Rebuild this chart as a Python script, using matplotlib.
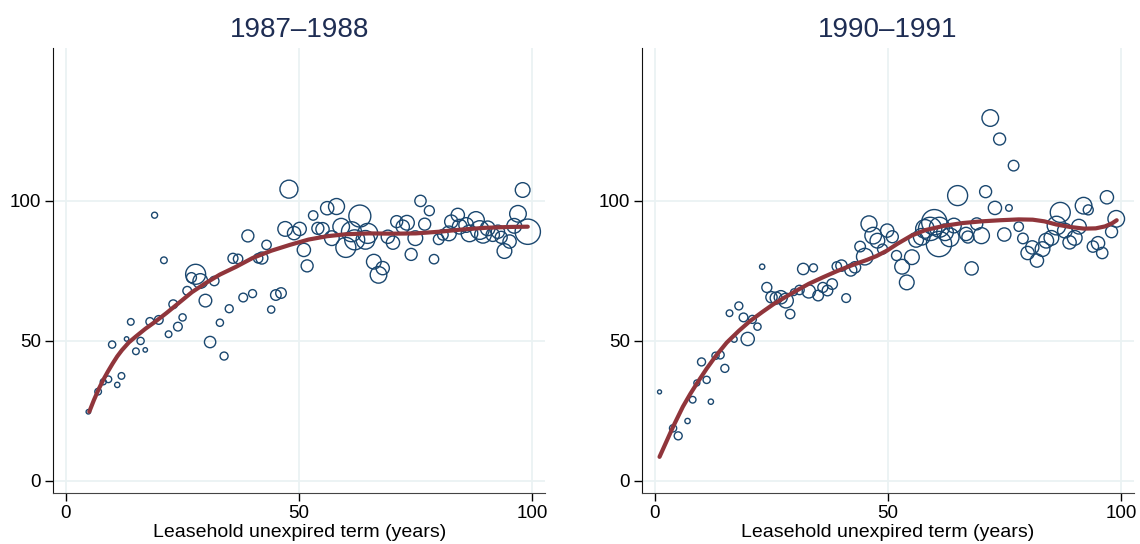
import matplotlib
matplotlib.use("Agg")
import matplotlib.pyplot as plt
import numpy as np

plt.rcParams['font.family'] = ['Liberation Sans', 'DejaVu Sans']

# 1987-1988: leasehold term (years), relative value, weight (area of marker)
x87 = [4.8, 6.9, 8.0, 9.1, 11.0, 11.9, 9.9, 13.0, 15.0, 16.0, 17.0, 13.9, 18.0, 19.9,
       19.0, 21.0, 22.0, 24.0, 25.0, 23.0, 26.0, 27.8, 26.9, 28.8, 29.9, 31.8, 30.9,
       33.9, 33.0, 35.0, 35.8, 36.9, 38.0, 39.0, 40.0, 41.2, 42.0, 43.0, 44.0, 45.0,
       46.1, 47.8, 47.0, 48.9, 50.1, 51.0, 51.7, 53.0, 54.0, 55.0, 56.0, 58.0, 57.0,
       59.0, 60.0, 63.0, 61.2, 61.9, 64.2, 64.7, 66.0, 67.9, 67.0, 69.0, 70.1, 70.9,
       72.2, 73.1, 74.0, 74.9, 76.0, 77.9, 76.9, 78.9, 79.9, 80.8, 82.1, 82.6, 84.0,
       84.4, 85.8, 86.5, 87.9, 88.7, 89.4, 90.4, 91.5, 92.6, 93.3, 94.0, 95.1, 96.1,
       96.9, 97.9, 99.0]
y87 = [24.6, 31.8, 35.3, 36.2, 34.2, 37.4, 48.6, 50.6, 46.2, 49.9, 46.7, 56.7, 56.8, 57.4,
       94.8, 78.7, 52.3, 55.0, 58.3, 63.0, 67.8, 73.7, 72.5, 71.3, 64.3, 71.3, 49.5,
       44.5, 56.4, 61.4, 79.4, 79.2, 65.4, 87.4, 66.8, 79.4, 79.5, 84.2, 61.1, 66.3,
       67.0, 104.1, 89.9, 88.4, 89.9, 82.4, 76.7, 94.7, 90.1, 89.8, 97.3, 97.9, 86.6,
       90.7, 83.3, 94.5, 88.9, 86.0, 86.0, 88.3, 78.2, 75.9, 73.5, 87.1, 85.0, 92.5,
       90.7, 92.1, 80.8, 86.6, 99.9, 96.4, 91.6, 79.1, 86.2, 87.8, 88.3, 92.5, 94.9,
       90.7, 91.3, 88.3, 93.1, 89.5, 87.8, 90.1, 87.8, 88.9, 86.9, 82.0, 85.4, 91.0,
       95.3, 103.8, 88.9]
n87 = [5, 11, 9, 11, 7, 11, 13, 5, 11, 13, 5, 11, 16, 19,
       9, 11, 11, 19, 13, 19, 19, 100, 25, 54, 40, 22, 32,
       16, 13, 16, 25, 22, 19, 36, 16, 22, 36, 22, 13, 28,
       28, 81, 54, 44, 44, 44, 36, 22, 36, 44, 44, 64, 54,
       69, 100, 121, 100, 100, 87, 100, 54, 44, 69, 44, 44, 36,
       44, 54, 36, 54, 32, 25, 36, 22, 28, 28, 54, 44, 44,
       54, 54, 69, 69, 87, 69, 54, 44, 44, 36, 54, 44, 54,
       69, 54, 160]

# 1990-1991
x90 = [1.0, 3.9, 5.0, 7.0, 8.1, 9.0, 11.1, 12.0, 10.0, 13.0, 14.0, 15.0, 17.0, 16.0,
       18.0, 19.0, 19.9, 20.9, 22.0, 23.0, 24.0, 25.0, 26.0, 27.0, 28.1, 29.0, 29.8,
       31.0, 31.8, 34.0, 33.0, 35.0, 36.0, 37.0, 38.0, 39.0, 40.0, 41.0, 42.0, 42.9,
       44.0, 45.0, 45.9, 46.8, 47.7, 48.8, 49.8, 50.9, 51.8, 53.0, 54.0, 55.1, 56.0,
       57.2, 57.9, 59.0, 59.9, 60.9, 61.0, 62.2, 63.2, 64.1, 64.9, 66.7, 67.1, 67.9,
       69.0, 70.0, 70.9, 71.9, 73.9, 72.9, 74.9, 75.9, 76.9, 78.0, 78.9, 79.9, 80.9,
       81.9, 83.1, 83.9, 85.0, 86.1, 86.9, 87.9, 88.9, 90.0, 90.9, 91.9, 92.9, 93.9,
       95.0, 95.9, 96.9, 97.9, 98.9]
y90 = [31.7, 18.7, 16.0, 21.3, 28.9, 34.9, 36.0, 28.2, 42.4, 44.6, 44.9, 40.1, 50.5, 59.8,
       62.4, 58.3, 50.6, 57.6, 55.0, 76.4, 69.0, 65.5, 65.2, 65.5, 64.3, 59.5, 67.3,
       68.1, 75.6, 76.0, 67.6, 66.1, 69.0, 67.9, 70.2, 76.5, 76.8, 65.2, 75.2, 76.2,
       83.6, 80.0, 91.7, 87.5, 85.7, 82.7, 89.3, 87.1, 80.4, 76.4, 70.8, 79.8, 86.0,
       87.1, 89.9, 89.9, 92.3, 84.5, 90.5, 88.7, 86.9, 91.1, 101.8, 88.1, 87.0, 75.8,
       91.7, 87.5, 103.2, 129.5, 122.0, 97.4, 87.9, 97.4, 112.5, 90.7, 86.5, 81.3, 83.3,
       78.6, 82.7, 85.7, 86.7, 91.1, 95.8, 89.3, 85.1, 86.7, 90.7, 98.2, 96.7, 83.6,
       84.8, 81.3, 101.2, 88.9, 93.5]
n90 = [4, 13, 16, 7, 11, 9, 13, 7, 16, 13, 16, 16, 9, 11,
       16, 19, 44, 16, 13, 7, 25, 32, 36, 44, 54, 22, 11,
       22, 32, 16, 44, 28, 25, 28, 28, 22, 32, 19, 36, 32,
       28, 69, 64, 69, 54, 25, 44, 36, 25, 54, 54, 54, 54,
       69, 87, 136, 160, 160, 100, 69, 87, 54, 100, 44, 36, 44,
       36, 64, 36, 69, 36, 44, 44, 11, 28, 22, 28, 44, 44,
       44, 54, 54, 54, 87, 100, 54, 44, 54, 54, 69, 25, 32,
       44, 32, 44, 36, 69]

# smoothed fit
fx87 = [5, 6, 7, 8, 9, 10, 11, 12, 13.5, 15, 17, 19, 21.5, 24, 27, 30, 33, 36.5, 40,
        44, 48, 52, 56, 60, 65, 70, 75, 80, 85, 90, 95, 99]
fy87 = [24.6, 28.8, 32.6, 36.0, 39.0, 41.8, 44.4, 46.6, 49.4, 51.5, 54.2, 56.6, 59.8,
        63.2, 67.3, 70.6, 73.6, 76.4, 79.5, 82.1, 84.2, 86.1, 87.3, 88.0, 88.3, 88.2,
        88.3, 88.9, 89.7, 90.3, 90.6, 90.7]
fx90 = [1, 2, 3, 4, 5, 6, 7.6, 9, 11.1, 13, 15.4, 18, 20.4, 23, 25.4, 28, 30.4, 33, 36,
        39, 41.1, 43, 45.4, 47.5, 49.7, 52, 55, 58, 62, 66, 70, 74, 78, 81, 83.5, 86,
        89, 92, 94.5, 96.5, 98, 99]
fy90 = [8.5, 12.2, 15.9, 19.6, 23.0, 26.4, 31.0, 34.7, 40.0, 44.4, 49.3, 53.5, 57.0,
        60.2, 63.0, 65.6, 67.9, 70.3, 72.6, 74.8, 76.2, 77.4, 78.8, 80.2, 82.1, 84.6,
        87.5, 89.5, 91.0, 92.0, 92.6, 93.0, 93.3, 93.2, 92.6, 91.5, 90.6, 90.0, 90.1,
        90.8, 91.9, 93.0]

panels = [("1987\u20131988", x87, y87, n87, fx87, fy87),
          ("1990\u20131991", x90, y90, n90, fx90, fy90)]

fig = plt.figure(figsize=(11.4, 5.44), dpi=100)
lefts = [0.0468, 0.5634]

for left, (title, x, y, n, fx, fy) in zip(lefts, panels):
    ax = fig.add_axes([left, 0.0943, 0.4313, 0.8169])
    ax.scatter(x, y, s=np.array(n) * 2.07, facecolors='none',
               edgecolors='#1a476f', linewidths=1.0, zorder=3)
    ax.plot(fx, fy, color='#90353b', lw=3.0, solid_capstyle='round',
            solid_joinstyle='round', zorder=4)
    ax.set_xlim(-2.7, 102.7)
    ax.set_ylim(-4.3, 154.4)
    ax.set_xticks([0, 50, 100])
    ax.set_yticks([0, 50, 100])
    ax.grid(True, color='#eaf2f3', lw=1.3)
    ax.set_axisbelow(True)
    for s in ['top', 'right']:
        ax.spines[s].set_visible(False)
    ax.spines['left'].set_color('#111111')
    ax.spines['bottom'].set_color('#444444')
    ax.tick_params(direction='out', length=6, width=1, labelsize=13.5, pad=3)
    ax.set_title(title, fontsize=20, color='#1e2d53', pad=8)
    ax.set_xlabel("Leasehold unexpired term (years)", fontsize=14, labelpad=1)

fig.savefig("out.png", dpi=100)
